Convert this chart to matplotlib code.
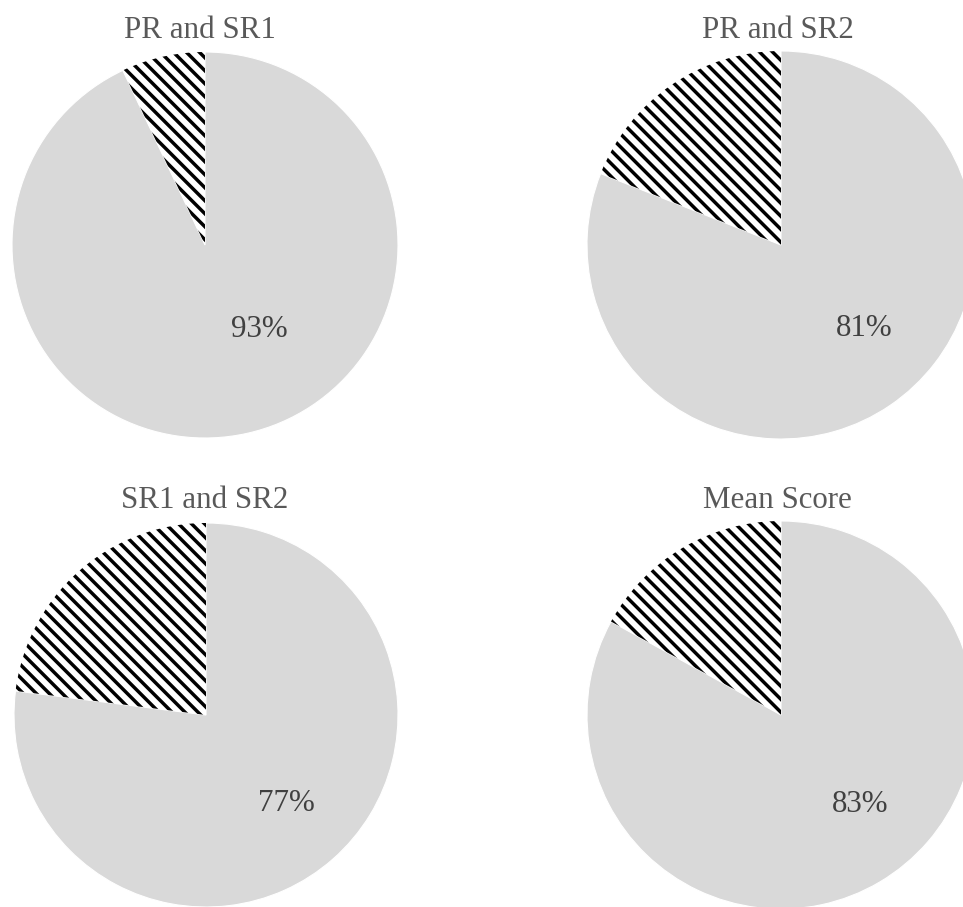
import matplotlib
matplotlib.use("Agg")
import matplotlib.pyplot as plt
import numpy as np

# ---- data ----
titles = ["PR and SR1", "PR and SR2", "SR1 and SR2", "Mean Score"]
agreement = [93, 81, 77, 83]

# ---- layout (pixels, top-left origin) ----
W, H = 963, 907
DPI = 100
centers = [(205, 245), (781, 245), (206, 715), (781, 715)]
radii = [193, 194, 192, 194]
title_x = [200, 778, 205, 777]
title_baseline = [38, 38, 508, 508]
label_off = [(0.28, -0.44), (0.43, -0.43), (0.42, -0.46), (0.41, -0.46)]

plt.rcParams["font.family"] = ["Liberation Serif", "DejaVu Serif"]

fig = plt.figure(figsize=(W / DPI, H / DPI), dpi=DPI)
fig.patch.set_facecolor("white")

FS = 22.3
STRIPE_PX = 13.0     # horizontal period of stripes in pixels
STRIPE_LW = 2.5      # stripe line width in points

for i, (t, v) in enumerate(zip(titles, agreement)):
    cx, cy = centers[i]
    r = radii[i]
    ax = fig.add_axes([(cx - r) / W, (H - cy - r) / H, 2 * r / W, 2 * r / H])
    wedges, _ = ax.pie([v, 100 - v], startangle=90, counterclock=False,
                       colors=["#d9d9d9", "white"], radius=1)
    wedges[0].set_edgecolor("white")
    wedges[0].set_linewidth(0.8)
    wedges[1].set_edgecolor("none")
    wedges[1].set_linewidth(0)
    for w in wedges:
        w.set_clip_on(False)
    # diagonal stripe texture clipped to the second wedge
    step = STRIPE_PX / r
    xs = np.array([-1.3, 1.3])
    for c in np.arange(-2.6, 2.6, step):
        ln, = ax.plot(xs, -xs + c, color="black", lw=STRIPE_LW,
                      solid_capstyle="butt")
        ln.set_clip_path(wedges[1])
    ax.set_xlim(-1, 1)
    ax.set_ylim(-1, 1)
    ax.set_aspect("equal")
    ax.axis("off")
    dx, dy = label_off[i]
    ax.text(dx, dy, f"{v}%", ha="center", va="center", fontsize=FS,
            color="#404040")
    fig.text(title_x[i] / W, 1 - title_baseline[i] / H, t, ha="center",
             va="baseline", fontsize=FS, color="#595959")

fig.savefig("out.png", dpi=DPI, facecolor="white")
